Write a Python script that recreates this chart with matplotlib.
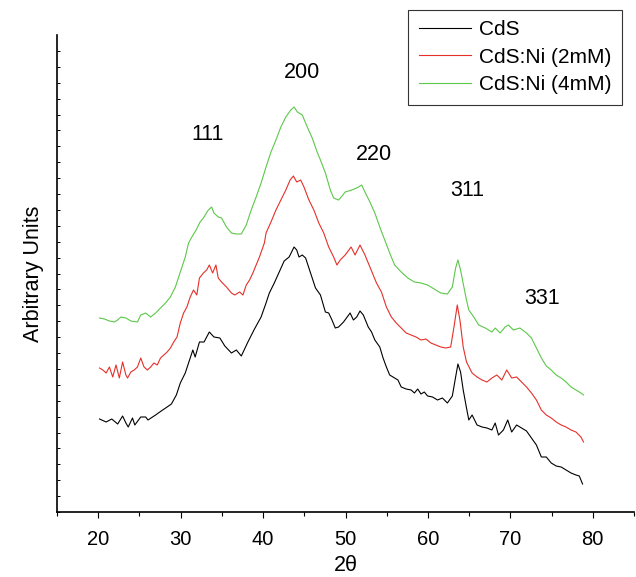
import numpy as np
import matplotlib
matplotlib.use('Agg')
import matplotlib.pyplot as plt

plt.rcParams['font.family'] = ['Liberation Sans', 'DejaVu Sans']

# 2theta (deg) and intensity (arb. units)
cds_x = [20.16, 20.96, 21.64, 22.36, 22.96, 23.36, 23.64, 24.16, 24.44, 25.16, 25.76, 26.04,
         26.96, 27.64, 28.36, 28.88, 29.48, 29.96, 30.56, 31.08, 31.48, 31.76, 32.28, 32.84,
         33.48, 34.04, 34.76, 35.36, 36.16, 36.76, 37.36, 38.16, 38.96, 39.76, 40.36, 40.76,
         41.36, 41.96, 42.56, 43.16, 43.76, 44.08, 44.36, 44.76, 45.16, 45.76, 46.36, 46.96,
         47.56, 47.96, 48.36, 48.76, 49.16, 49.76, 50.56, 50.96, 51.36, 51.76, 52.16, 52.76,
         53.16, 53.56, 54.16, 54.56, 54.96, 55.36, 55.76, 56.36, 56.76, 57.36, 57.96, 58.36,
         58.76, 59.16, 59.56, 59.96, 60.56, 61.16, 61.76, 62.36, 62.96, 63.36, 63.64, 63.96,
         64.28, 64.68, 64.96, 65.36, 65.96, 66.56, 67.16, 67.76, 68.16, 68.56, 69.16, 69.68,
         70.16, 70.76, 71.36, 71.96, 72.56, 73.16, 73.76, 74.36, 74.96, 75.56, 76.16, 76.76,
         77.36, 77.96, 78.36, 78.76]
cds_y = [93, 90, 93, 88, 96, 89, 85, 94, 87, 95, 95, 92,
         97, 101, 105, 108, 117, 129, 139, 152, 162, 155, 170, 170,
         180, 175, 174, 166, 159, 162, 156, 170, 183, 195, 209, 219,
         229, 240, 251, 255, 265, 262, 255, 257, 254, 239, 224, 217,
         200, 199, 192, 184, 185, 190, 199, 192, 195, 201, 197, 185,
         180, 172, 165, 154, 145, 137, 135, 132, 125, 123, 122, 119,
         123, 118, 120, 116, 115, 112, 114, 109, 116, 135, 148, 140,
         122, 104, 92, 97, 87, 85, 84, 82, 89, 77, 82, 92,
         80, 87, 84, 81, 74, 67, 55, 55, 49, 46, 45, 42,
         39, 37, 36, 28]

ni2_x = [20.16, 20.56, 20.96, 21.36, 21.76, 22.16, 22.56, 22.96, 23.36, 23.56, 23.96, 24.36,
         24.76, 25.16, 25.56, 25.96, 26.36, 26.76, 27.16, 27.56, 27.96, 28.36, 28.76, 29.16,
         29.56, 29.96, 30.36, 30.76, 31.16, 31.56, 31.96, 32.28, 32.76, 33.16, 33.48, 33.88,
         34.28, 34.56, 34.96, 35.56, 36.16, 36.56, 37.16, 37.56, 37.96, 38.36, 38.76, 39.16,
         39.56, 40.16, 40.36, 40.96, 41.56, 42.16, 42.76, 43.28, 43.68, 44.08, 44.56, 44.96,
         45.56, 46.16, 46.76, 47.36, 47.96, 48.56, 48.96, 49.36, 49.96, 50.68, 51.16, 51.76,
         52.36, 52.96, 53.76, 54.36, 54.96, 55.56, 56.16, 56.76, 57.36, 57.96, 58.56, 59.16,
         59.76, 60.36, 60.96, 61.56, 62.16, 62.76, 63.16, 63.56, 63.88, 64.28, 64.68, 65.36,
         65.96, 66.56, 67.16, 67.76, 68.36, 68.96, 69.56, 70.16, 70.76, 71.36, 71.96, 72.56,
         73.16, 73.76, 74.36, 74.96, 75.56, 76.16, 76.76, 77.36, 77.96, 78.56, 78.88]
ni2_y = [144, 142, 139, 145, 135, 147, 134, 150, 137, 134, 140, 142,
         145, 154, 145, 142, 145, 149, 147, 154, 157, 160, 164, 170,
         175, 189, 199, 205, 215, 222, 217, 234, 239, 242, 247, 239,
         247, 234, 230, 225, 219, 217, 220, 217, 227, 232, 239, 247,
         255, 269, 279, 290, 302, 312, 322, 332, 336, 330, 332, 325,
         312, 302, 289, 279, 265, 255, 247, 252, 257, 265, 257, 267,
         257, 245, 229, 220, 205, 195, 189, 184, 179, 177, 175, 172,
         173, 169, 167, 165, 164, 165, 185, 207, 192, 165, 150, 139,
         135, 132, 130, 134, 137, 132, 142, 134, 135, 130, 125, 119,
         112, 102, 97, 94, 90, 87, 85, 82, 80, 75, 70]

ni4_x = [20.16, 20.76, 21.36, 21.96, 22.36, 22.76, 23.36, 23.96, 24.76, 25.16, 25.76, 26.36,
         26.96, 27.56, 28.16, 28.76, 29.36, 29.76, 30.16, 30.56, 30.96, 31.36, 31.88, 32.36,
         32.76, 33.36, 33.76, 34.04, 34.56, 34.96, 35.56, 36.16, 36.76, 37.36, 37.96, 38.56,
         39.16, 39.76, 40.36, 40.96, 41.56, 42.16, 42.76, 43.36, 43.76, 44.16, 44.76, 45.36,
         45.96, 46.56, 46.96, 47.56, 48.16, 48.56, 49.16, 49.68, 49.96, 50.76, 51.36, 51.96,
         52.36, 52.96, 53.56, 54.16, 54.76, 55.36, 55.96, 56.76, 57.56, 58.36, 59.16, 59.96,
         60.76, 61.56, 62.36, 62.96, 63.36, 63.64, 63.96, 64.36, 64.68, 64.96, 65.56, 66.16,
         66.96, 67.76, 68.16, 68.76, 69.36, 69.76, 70.36, 71.16, 71.96, 72.56, 73.16, 73.76,
         74.36, 74.96, 75.56, 76.16, 76.76, 77.36, 77.96, 78.56, 78.88]
ni4_y = [194, 193, 191, 190, 192, 195, 194, 191, 190, 197, 199, 195,
         199, 204, 209, 215, 225, 235, 245, 255, 269, 275, 282, 290,
         294, 302, 305, 299, 295, 294, 285, 279, 278, 278, 287, 302,
         315, 329, 345, 360, 372, 385, 395, 402, 405, 400, 397, 385,
         374, 360, 352, 339, 322, 314, 312, 317, 320, 322, 324, 327,
         320, 310, 299, 285, 272, 259, 247, 240, 234, 230, 229, 227,
         223, 219, 218, 225, 244, 252, 242, 225, 212, 202, 195, 187,
         184, 180, 184, 179, 185, 187, 182, 184, 179, 174, 164, 154,
         146, 142, 137, 134, 130, 125, 122, 119, 117]

peak_labels = ['111', '200', '220', '311', '331']
peak_x = [33.3, 44.7, 53.4, 64.8, 73.8]
peak_y = [377, 439, 357, 322, 214]

fig = plt.figure(figsize=(6.36, 5.77), dpi=100)
ax = fig.add_axes([57/636, 65/577, 577/636, 477/577])

ax.plot(cds_x, cds_y, color='black', lw=0.8, label='CdS')
ax.plot(ni2_x, ni2_y, color='#e5302a', lw=0.8, label='CdS:Ni (2mM)')
ax.plot(ni4_x, ni4_y, color='#5cc84a', lw=0.8, label='CdS:Ni (4mM)')

for lab, px, py in zip(peak_labels, peak_x, peak_y):
    ax.text(px, py, lab, ha='center', va='center', fontsize=15.5)

ax.set_xlim(15, 85)
ax.set_ylim(0, 477)
ax.set_xticks(range(20, 81, 10))
ax.set_xticks(range(15, 86, 10), minor=True)
ax.set_yticks(np.arange(0, 477, 15.9))
ax.set_yticklabels([])
ax.tick_params(axis='x', direction='out', length=4, width=0.8, labelsize=14.5, pad=9)
ax.tick_params(axis='x', which='minor', direction='out', length=3, width=0.8)
ax.tick_params(axis='y', direction='in', length=2.5, width=0.7)
for s in ['top', 'right']:
    ax.spines[s].set_visible(False)
ax.spines['left'].set_linewidth(1.2)
ax.spines['bottom'].set_linewidth(1.2)

ax.set_xlabel('2θ', fontsize=15.5, labelpad=4)
ax.set_ylabel('Arbitrary Units', fontsize=15.5, labelpad=6)

leg = fig.legend(loc='upper right', bbox_to_anchor=(622/636, 1 - 10/577), fontsize=15,
                 frameon=True, fancybox=False, edgecolor='black', handlelength=2.5,
                 borderpad=0.5, labelspacing=0.4, handletextpad=0.4, borderaxespad=0)
leg.get_frame().set_linewidth(0.8)

fig.savefig('out.png', dpi=100)
